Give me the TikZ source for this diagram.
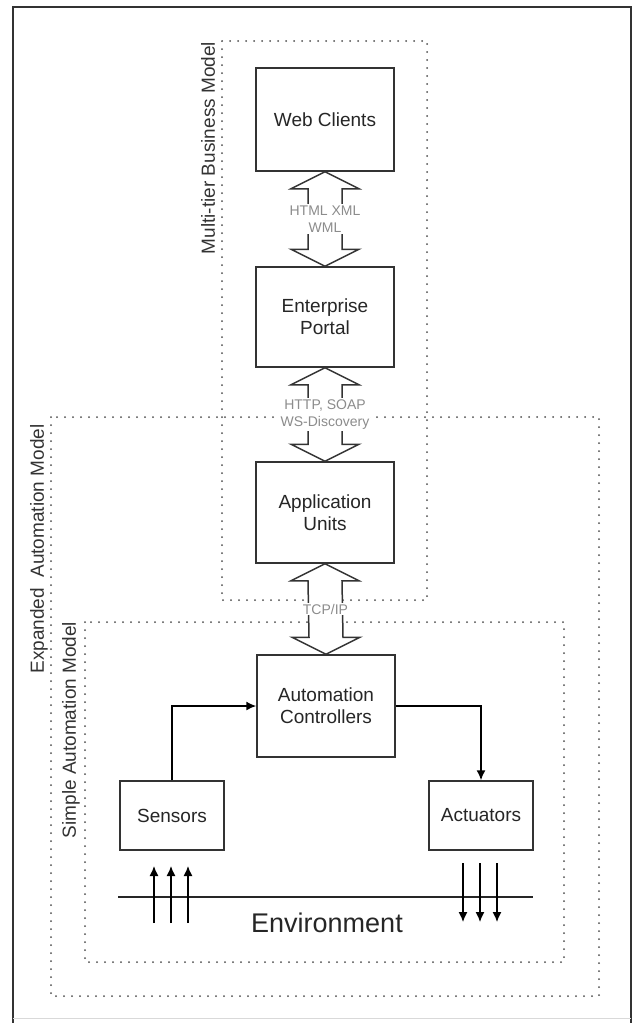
\documentclass[tikz,border=0pt]{standalone}
\usepackage{fontspec}
\setmainfont{Liberation Sans}
\usepackage{tikz}
\usetikzlibrary{arrows.meta}
\usetikzlibrary{calc}

% hollow double arrow between two stacked boxes
\newcommand{\fatarrow}[3]{%
\draw[fat] (#1.south) -- ++(34,17) -- ++(-17,0) -- ($(#2.north)+(17,-17)$) -- ++(17,0) -- (#2.north)
  -- ++(-34,-17) -- ++(17,0) -- ($(#1.south)+(-17,17)$) -- ++(-17,0) -- cycle;
\node[proto] at ($(#1.south)!.5!(#2.north)$) {#3};
}

\begin{document}
\begin{tikzpicture}[x=1pt, y=-1pt,
  line/.style={>={Latex[length=10pt,width=9pt]}},
  box/.style={draw=black!80, line width=1.5pt, fill=white, align=center, inner sep=0pt, text=black!85, font=\fontsize{19}{22}\selectfont},
  zone/.style={draw=black!70, line width=2pt, line cap=round, dash pattern=on 0pt off 8pt},
  zonelabel/.style={rotate=90, text=black!80, font=\fontsize{19}{22}\selectfont},
  fat/.style={draw=black!80, line width=1.5pt, fill=white},
  proto/.style={fill=white, inner sep=1pt, align=center, text=black!45, font=\fontsize{14}{17.5}\selectfont}]
\useasboundingbox (0,0) rectangle (636,1023);

%\draw[step=10pt, color=black!10] (0,0) grid (636,1023);
\draw[line width=1.8pt, black!80] (13,1023) -- (13,7) -- (631,7) -- (631,1023);
\draw[line width=1pt, black!15] (13,1018) -- (631,1018);

\draw[zone] (222,41) rectangle (427,600);
\draw[zone] (51,417) rectangle (599,996);
\draw[zone] (85,622) rectangle (564,962);

\node[zonelabel] (multitier) at (208,148) {Multi-tier Business Model};
\node[zonelabel] (expanded) at (39,549) {Expanded\ \ Automation Model};
\node[zonelabel] (simple) at (71,730) {Simple Automation Model};

\node[box, minimum width=138pt, minimum height=103pt] (webclients) at (325,119.5) {Web Clients};
\node[box, minimum width=138pt, minimum height=100pt] (portal) at (325,317) {Enterprise\\Portal};
\node[box, minimum width=138pt, minimum height=101pt] (appunits) at (325,512.5) {Application\\Units};
\node[box, minimum width=138pt, minimum height=102pt] (controllers) at (326,706) {Automation\\Controllers};
\node[box, minimum width=104pt, minimum height=69pt] (sensors) at (172,815.5) {Sensors};
\node[box, minimum width=104pt, minimum height=69pt] (actuators) at (481,815.5) {Actuators};

\fatarrow{webclients}{portal}{HTML XML\\WML}
\fatarrow{portal}{appunits}{HTTP, SOAP\\WS-Discovery}
\fatarrow{appunits}{controllers}{TCP/IP}

\draw[->, line, line width=1.5pt] (sensors.north) |- (controllers.west);
\draw[->, line, line width=1.5pt] (controllers.east) -| (actuators.north);

\coordinate (envL) at (118,897);
\coordinate (envR) at (533,897);
\draw[line width=1.8pt, black!85] (envL) -- (envR);
\node[text=black!85, font=\fontsize{27}{30}\selectfont] (environment) at (327,923) {Environment};
\foreach \x in {154,171,188}
  \draw[->, line, line width=1.3pt] (\x,923) -- (\x,866);
\foreach \x in {463,480,497}
  \draw[->, line, line width=1.3pt] (\x,863) -- (\x,922);

\end{tikzpicture}
\end{document}
